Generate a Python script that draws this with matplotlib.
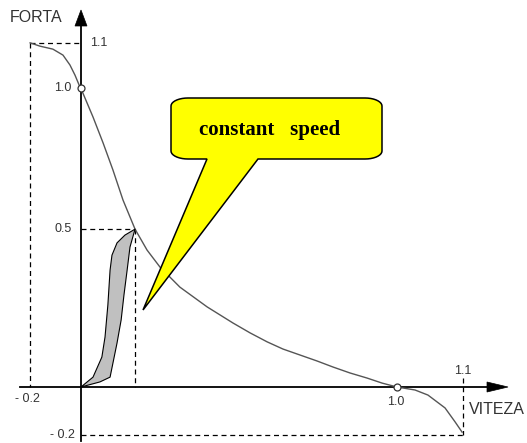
import numpy as np
import matplotlib
matplotlib.use("Agg")
import matplotlib.pyplot as plt
from matplotlib.patches import Polygon

# ---- data (schematic units: origin at axes crossing) ----
curve_x = [-0.161, -0.130, -0.089, -0.057, -0.035, -0.019, -0.006, 0.000, 0.006, 0.038,
           0.070, 0.101, 0.133, 0.171, 0.209, 0.250, 0.313, 0.399, 0.481, 0.535,
           0.589, 0.639, 0.693, 0.747, 0.797, 0.851, 0.905, 0.953, 1.000, 1.057,
           1.098, 1.152, 1.184, 1.206]
curve_y = [1.151, 1.140, 1.130, 1.110, 1.077, 1.043, 1.010, 1.000, 0.983, 0.903,
           0.816, 0.726, 0.625, 0.528, 0.458, 0.401, 0.334, 0.268, 0.214, 0.181,
           0.151, 0.127, 0.107, 0.087, 0.067, 0.047, 0.030, 0.013, 0.000, -0.010,
           -0.027, -0.070, -0.117, -0.151]

loop_up_x = [0.000, 0.038, 0.066, 0.076, 0.085, 0.092, 0.098, 0.114, 0.139, 0.171]
loop_up_y = [0.000, 0.033, 0.100, 0.167, 0.274, 0.391, 0.441, 0.482, 0.508, 0.528]
loop_dn_x = [0.171, 0.155, 0.146, 0.136, 0.127, 0.114, 0.092, 0.060, 0.000]
loop_dn_y = [0.528, 0.468, 0.391, 0.308, 0.224, 0.147, 0.033, 0.017, 0.000]

marks_x = [0.0, 1.0]
marks_y = [1.0, 0.0]

# guide positions (schematic) and their labels
g_xneg, g_xpos = -0.160, 1.209      # x = -0.2 and x = 1.1
g_ytop, g_ymid, g_yneg = 1.151, 0.528, -0.161   # y = 1.1, 0.5, -0.2
x_mid = 0.171                       # x where force = 0.5

ytick_labels = ["1.1", "1.0", "0.5", "- 0.2"]
xtick_labels = ["- 0.2", "1.0", "1.1"]
xlabel, ylabel = "VITEZA", "FORTA"
callout_text = "constant   speed"

# ---- figure ----
X0, SX, Y0, SY = 81, 316, 387, 299
fig = plt.figure(figsize=(5.27, 4.43), dpi=100)
ax = fig.add_axes([0, 0, 1, 1])
ax.set_xlim((0 - X0) / SX, (527 - X0) / SX)
ax.set_ylim((Y0 - 443) / SY, Y0 / SY)
ax.axis("off")

def ux(px):
    return px / SX

def uy(py):
    return py / SY

tc = "#333333"
sans = ["Liberation Sans", "DejaVu Sans"]

# axes
ax.plot([ux(-61), ux(408)], [0, 0], color="black", lw=1.3, zorder=3)
ax.add_patch(Polygon([[ux(406), uy(5)], [ux(427), 0], [ux(406), uy(-5)]],
                     closed=True, fc="black", ec="black", lw=0.5, zorder=3))
ax.plot([0, 0], [uy(-54), uy(362)], color="black", lw=1.3, zorder=3)
ax.add_patch(Polygon([[ux(-6), uy(361)], [0, uy(377)], [ux(6), uy(361)]],
                     closed=True, fc="black", ec="black", lw=0.5, zorder=3))

# dashed guides
dk = dict(color="black", lw=0.9, ls=(0, (4, 3)), zorder=2)
ax.plot([g_xneg, 0], [g_ytop, g_ytop], **dk)
ax.plot([g_xneg, g_xneg], [g_ytop, 0], **dk)
ax.plot([0, x_mid], [g_ymid, g_ymid], **dk)
ax.plot([x_mid, x_mid], [g_ymid, 0], **dk)
ax.plot([0, g_xpos], [g_yneg, g_yneg], **dk)
ax.plot([g_xpos, g_xpos], [uy(9), g_yneg], **dk)

# main curve
ax.plot(curve_x, curve_y, color="#555555", lw=1.0, zorder=4, solid_joinstyle="round")

# loop
lx = loop_up_x + loop_dn_x[1:]
ly = loop_up_y + loop_dn_y[1:]
ax.fill(lx, ly, fc="#c0c0c0", ec="black", lw=0.8, zorder=4, joinstyle="round")

# open circles
ax.plot(marks_x, marks_y, ls="none", marker="o", ms=5, mfc="white",
        mec="#333333", mew=0.9, zorder=6)

# tick labels
fs = 9
ax.text(ux(9), g_ytop, ytick_labels[0], ha="left", va="center", fontsize=fs, color=tc, family=sans)
ax.text(ux(-10), 1.0, ytick_labels[1], ha="right", va="center", fontsize=fs, color=tc, family=sans)
ax.text(ux(-9), g_ymid, ytick_labels[2], ha="right", va="center", fontsize=fs, color=tc, family=sans)
ax.text(ux(-6), g_yneg, ytick_labels[3], ha="right", va="center", fontsize=fs, color=tc, family=sans)
ax.text(ux(-54), uy(-12), xtick_labels[0], ha="center", va="center", fontsize=fs, color=tc, family=sans)
ax.text(1.0 - ux(1), uy(-15), xtick_labels[1], ha="center", va="center", fontsize=fs, color=tc, family=sans)
ax.text(g_xpos, uy(16), xtick_labels[2], ha="center", va="center", fontsize=fs, color=tc, family=sans)
ax.text(ux(-71), uy(369), ylabel, ha="left", va="center", fontsize=11.5, color=tc, family=sans)
ax.text(ux(388), uy(-23), xlabel, ha="left", va="center", fontsize=11.5, color=tc, family=sans)

# callout bubble (pixel-like offsets converted to units)
L, R, T, B = 171 - X0, 382 - X0, Y0 - 98, Y0 - 159
rx, ry = 17, 8
pts = []
def arc(cx, cy, a0, a1, n=10):
    for a in np.linspace(a0, a1, n):
        pts.append((cx + rx * np.cos(a), cy + ry * np.sin(a)))
arc(L + rx, T - ry, np.pi, np.pi / 2)
arc(R - rx, T - ry, np.pi / 2, 0)
arc(R - rx, B + ry, 0, -np.pi / 2)
pts.append((258 - X0, B))
pts.append((143 - X0, Y0 - 310))
pts.append((207 - X0, B))
arc(L + rx, B + ry, -np.pi / 2, -np.pi)
poly = [[ux(p[0]), uy(p[1])] for p in pts]
ax.add_patch(Polygon(poly, closed=True, fc="#ffff00", ec="black", lw=1.1, zorder=7))
ax.text(ux(270 - X0), uy(Y0 - 130), callout_text, ha="center", va="center",
        fontsize=15, fontweight="bold", family=["Liberation Serif", "DejaVu Serif"],
        color="black", zorder=8)

fig.savefig("out.png", dpi=100)
